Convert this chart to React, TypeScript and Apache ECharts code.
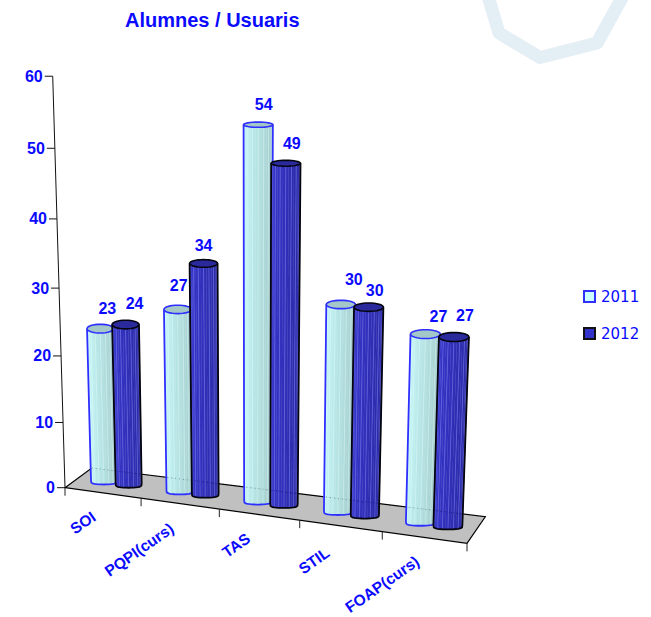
import React, { useEffect, useRef } from "react";
import * as echarts from "echarts";

const CATEGORIES = ["SOI", "PQPI(curs)", "TAS", "STIL", "FOAP(curs)"];
const VALUES_2011 = [23, 27, 54, 30, 27];
const VALUES_2012 = [24, 34, 49, 30, 27];
const Y_TICKS = [0, 10, 20, 30, 40, 50, 60];

const BLUE = "#0a0aff";
const SANS = "'Liberation Sans', Arial, sans-serif";

// 3D look: bilinear floor, perspective height
function floorPoint(u: number, d: number) {
  const fx = 65 + 75 * u + 1.08 * u * u;
  const fy = 487.7 + (fx - 65) * 0.1384;
  const t = u / 5;
  return [fx + (26.7 - 8.4 * t) * d, fy + (-19.7 - 6.9 * t) * d];
}
function project(u: number, d: number, v: number) {
  const [bx, by] = floorPoint(u, d);
  const a = 6.395 + 0.001 * (bx - 65) + 0.065 * (1 - d / 0.55);
  const h = (a * v) / (1 - 0.000967 * v);
  return [bx + (bx - 250) * 0.0001615 * h, by - h];
}
function unwarp(api: any, params: any, cat: number, val: number) {
  const p = api.coord([cat, val]);
  const cs = params.coordSys;
  return {
    u: ((p[0] - cs.x) / cs.width) * CATEGORIES.length,
    v: ((cs.y + cs.height - p[1]) / cs.height) * 60,
  };
}
function mix(a: number[], b: number[], t: number) {
  return `rgb(${a.map((x, i) => Math.round(x + (b[i] - x) * t)).join(",")})`;
}

const LABEL_NUDGE: Record<string, number[][]> = {
  "2011": [[7, -20], [1, -24], [5.5, -20], [13, -25], [13, -18]],
  "2012": [[9, -21], [0, -18], [6, -20], [6, -17], [11, -21]],
};
const CATEGORY_NUDGE = [[-3, 2], [-2, 3], [-5, 2], [-7, 5], [-1, 2]];

const LOOK: Record<string, any> = {
  "2011": {
    off: -0.175,
    left: [204, 255, 255],
    right: [158, 196, 196],
    stripe: "rgba(230,255,255,0.45)",
    edge: "#2f2fff",
    cap: "#a4c8c8",
  },
  "2012": {
    off: 0.155,
    left: [56, 56, 210],
    right: [40, 40, 160],
    stripe: "rgba(120,120,240,0.65)",
    edge: "#050510",
    cap: "#2a2a9c",
  },
};

function cylinder(name: string) {
  const look = LOOK[name];
  return (params: any, api: any) => {
    const cat = api.value(0);
    const { u, v } = unwarp(api, params, cat, api.value(1));
    const u0 = u + look.off;
    const d = 0.55;
    const b = project(u0, d, 0);
    const t = project(u0, d, v);
    const hwB = 0.17 * (75 + 2.16 * u0);
    const hwT = hwB * (1 + (b[1] - t[1]) * 0.0002);
    const ryB = 4.5;
    const ryT = 1.5 + t[1] * 0.0088;
    const N = 16;
    const topAt = (k: number) => {
      const a = Math.PI - (Math.PI * k) / N;
      return [t[0] + hwT * Math.cos(a), t[1] + ryT * Math.sin(a)];
    };
    const botAt = (k: number) => {
      const a = Math.PI - (Math.PI * k) / N;
      return [b[0] + hwB * Math.cos(a), b[1] + ryB * Math.pow(Math.max(Math.sin(a), 0), 0.4)];
    };
    const children: any[] = [];
    for (let k = 0; k < N; k++) {
      const fill = mix(look.left, look.right, (k + 0.5) / N);
      children.push({
        type: "polygon",
        shape: { points: [topAt(k), topAt(k + 1), botAt(k + 1), botAt(k)] },
        style: { fill, stroke: fill, lineWidth: 0.4 },
        silent: true,
      });
    }
    for (let k = 2; k < N - 1; k += 2) {
      children.push({
        type: "line",
        shape: { x1: topAt(k)[0], y1: topAt(k)[1], x2: botAt(k)[0], y2: botAt(k)[1] },
        style: { stroke: look.stripe, lineWidth: 0.8 },
        silent: true,
      });
    }
    const outline: number[][] = [topAt(0)];
    for (let k = 0; k <= N; k++) outline.push(botAt(k));
    outline.push(topAt(N));
    children.push({
      type: "polyline",
      shape: { points: outline },
      style: { fill: "none", stroke: look.edge, lineWidth: 1.8 },
      silent: true,
    });
    const cap: number[][] = [];
    for (let k = 0; k < N * 2; k++) {
      const a = (Math.PI * k) / N;
      cap.push([t[0] + hwT * Math.cos(a), t[1] + ryT * Math.sin(a)]);
    }
    children.push({
      type: "polygon",
      shape: { points: cap },
      style: { fill: look.cap, stroke: look.edge, lineWidth: 1.6 },
      silent: true,
    });
    const nudge = LABEL_NUDGE[name][cat];
    children.push({
      type: "text",
      style: {
        x: t[0] + nudge[0],
        y: t[1] + nudge[1],
        text: String(api.value(1)),
        font: `bold 16px ${SANS}`,
        fill: BLUE,
        textAlign: "center",
        textVerticalAlign: "middle",
      },
      silent: true,
    });
    return { type: "group", children };
  };
}

function renderFloor() {
  const pts = [floorPoint(0, 0), floorPoint(0, 1), floorPoint(5, 1), floorPoint(5, 0)];
  const ticks = [0, 1, 2, 3, 4, 5].map((u) => {
    const p = floorPoint(u, 0);
    return {
      type: "line",
      shape: { x1: p[0], y1: p[1], x2: p[0], y2: p[1] + 8 },
      style: { stroke: "#222", lineWidth: 1 },
      silent: true,
    };
  });
  return {
    type: "group",
    children: [
      {
        type: "polygon",
        shape: { points: pts },
        style: { fill: "#c0c0c0", stroke: "#000", lineWidth: 1.2 },
        silent: true,
      },
      ...ticks,
    ],
  };
}

function renderYTick(params: any, api: any) {
  const { v } = unwarp(api, params, 0, api.value(1));
  const p = project(0, 0, v);
  const children: any[] = [
    {
      type: "line",
      shape: { x1: p[0] - 8, y1: p[1], x2: p[0], y2: p[1] },
      style: { stroke: "#111", lineWidth: 1 },
      silent: true,
    },
    {
      type: "text",
      style: {
        x: p[0] - 10,
        y: p[1],
        text: String(api.value(1)),
        font: `bold 16px ${SANS}`,
        fill: BLUE,
        textAlign: "right",
        textVerticalAlign: "middle",
      },
      silent: true,
    },
  ];
  if (params.dataIndex === 0) {
    const end = project(0, 0, 60);
    children.push({
      type: "line",
      shape: { x1: p[0], y1: p[1], x2: end[0], y2: end[1] },
      style: { stroke: "#111", lineWidth: 1 },
      silent: true,
    });
  }
  return { type: "group", children };
}

function renderCategory(params: any, api: any) {
  const cat = api.value(0);
  const { u } = unwarp(api, params, cat, 0);
  const p = floorPoint(u, 0);
  const nudge = CATEGORY_NUDGE[cat];
  return {
    type: "text",
    x: p[0] - 6 + nudge[0],
    y: p[1] + 20 + nudge[1],
    rotation: (35 * Math.PI) / 180,
    style: {
      text: CATEGORIES[cat],
      font: `bold 15.5px ${SANS}`,
      fill: BLUE,
      textAlign: "right",
      textVerticalAlign: "middle",
    },
    silent: true,
  };
}

function renderDots() {
  const a = floorPoint(0, 1);
  const b = floorPoint(5, 1);
  return {
    type: "line",
    shape: { x1: a[0], y1: a[1], x2: b[0], y2: b[1] },
    style: { stroke: "rgba(0,0,0,0.3)", lineWidth: 1, lineDash: [1, 3] },
    silent: true,
  };
}

export default function App() {
  const ref = useRef<HTMLDivElement>(null);
  useEffect(() => {
    const chart = echarts.init(ref.current!, null, { renderer: "svg" });
    const catIndex = CATEGORIES.map((_, i) => i);
    chart.setOption({
      animation: false,
      backgroundColor: "#fff",
      title: {
        text: "Alumnes / Usuaris",
        left: 120,
        top: 5,
        textStyle: { fontFamily: SANS, fontWeight: "bold", fontSize: 20, color: BLUE },
      },
      legend: {
        data: ["2011", "2012"],
        orient: "vertical",
        left: 578,
        top: 284,
        icon: "rect",
        itemWidth: 11,
        itemHeight: 11,
        itemGap: 22,
        selectedMode: false,
        textStyle: { fontFamily: "'DejaVu Sans'", fontSize: 15, color: BLUE, padding: [0, 0, 0, 1] },
      },
      grid: { left: 65, top: 76.7, width: 402, height: 411 },
      xAxis: { type: "category", data: CATEGORIES, show: false },
      yAxis: { type: "value", min: 0, max: 60, interval: 10, show: false },
      series: [
        {
          type: "custom",
          name: "floor",
          data: [[0, 0]],
          renderItem: renderFloor,
        },
        {
          type: "custom",
          name: "yAxis",
          data: Y_TICKS.map((t) => [0, t]),
          renderItem: renderYTick,
        },
        {
          type: "custom",
          name: "categories",
          data: catIndex.map((i) => [i, 0]),
          renderItem: renderCategory,
        },
        {
          type: "custom",
          name: "2011",
          data: VALUES_2011.map((v, i) => [i, v]),
          renderItem: cylinder("2011"),
          itemStyle: { color: "#ccffff", borderColor: "#2f2fff", borderWidth: 1.5 },
        },
        {
          type: "custom",
          name: "2012",
          data: VALUES_2012.map((v, i) => [i, v]),
          renderItem: cylinder("2012"),
          itemStyle: { color: "#3333cc", borderColor: "#111", borderWidth: 1.5 },
        },
        {
          type: "custom",
          name: "backEdge",
          data: [[0, 0]],
          renderItem: renderDots,
        },
      ],
      graphic: [
        {
          type: "polyline",
          shape: { points: [[488, -4], [499, 33], [540, 57.5], [597, 43], [623, -4]] },
          style: { fill: "none", stroke: "#e4eef5", lineWidth: 13, lineJoin: "round" },
          silent: true,
          z: -1,
        },
      ],
    });
    return () => chart.dispose();
  }, []);
  return (
    <div
      ref={ref}
      style={{ position: "fixed", left: 0, top: 0, width: 651, height: 617 }}
    />
  );
}
